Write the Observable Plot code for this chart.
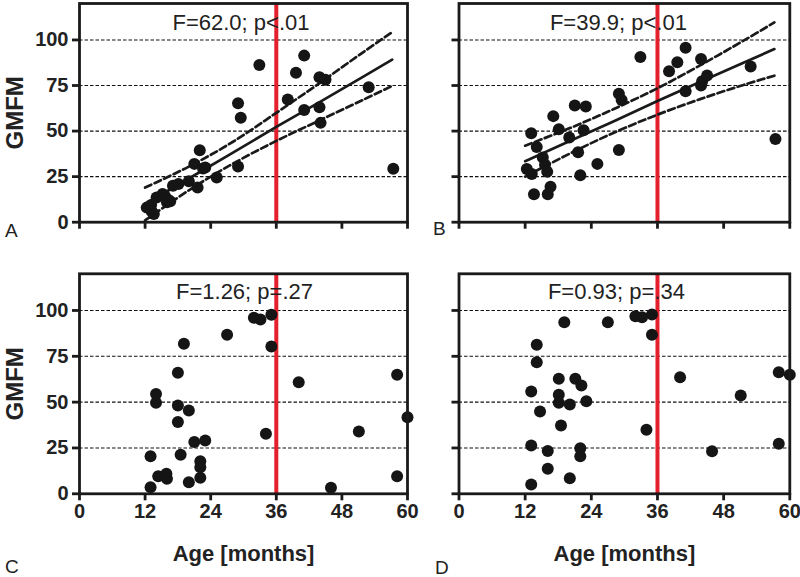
<!DOCTYPE html>
<html><head><meta charset="utf-8">
<script src="https://cdn.jsdelivr.net/npm/d3@7"></script>
<script src="https://cdn.jsdelivr.net/npm/@observablehq/plot@0.6"></script>
<style>
html,body{margin:0;padding:0;background:#fff;}
#wrap{position:relative;width:800px;height:577px;overflow:hidden;font-family:"Liberation Sans",Arial,sans-serif;}
.panel{position:absolute;}
.letter{position:absolute;font-size:19px;color:#222;line-height:1;font-family:"Liberation Sans",Arial,sans-serif;}
</style></head><body><div id="wrap"></div>
<script>
// ---- data ----
const xTicks = [0, 12, 24, 36, 48, 60];
const yTicks = [0, 25, 50, 75, 100];
const gridLevels = [25, 50, 75, 100];
const cutoffMonths = 36;

// top row (A, B): same children, two outcomes
const agesTop = [12.3, 13.1, 13.2, 13.6, 14.1, 15.2, 15.6, 16.0, 16.1, 16.6, 17.1, 18.1, 20.0, 21.0, 21.6, 22.0, 22.6, 23.0, 25.1, 29.0, 29.5, 29.0, 32.9, 38.1, 39.6, 41.1, 41.1, 43.9, 43.9, 44.1, 45.0, 52.9, 57.4];
const gmfmA = [8, 9.5, 6, 4.5, 13.5, 15.5, 14.5, 11, 12.5, 11.5, 20, 21, 22.5, 32, 19, 39.5, 29.5, 30, 24.5, 65.3, 57.3, 30.5, 86.3, 67.3, 82, 91.4, 61.6, 79.5, 63.1, 54.5, 78.1, 74, 29.3];
const gmfmB = [29.2, 48.8, 26.4, 15.4, 41.3, 35.5, 31.5, 27.7, 15.4, 19.5, 58.2, 51, 46.5, 64, 38.4, 25.8, 50.5, 63.5, 32, 70.5, 67.1, 39.6, 90.7, 82.8, 87.8, 95.7, 71.9, 89.6, 75, 77.3, 80.5, 85.4, 45.7];

// regression fit and dashed confidence bands (read at these ages)
const fitAges = [12, 20, 28, 36, 44, 52, 57.2];
const fitA = [10, 24, 38, 52.3, 66, 80, 89.2];
const upperA = [19, 30.5, 44, 60, 76.5, 93.5, 104.3];
const lowerA = [1, 17.5, 32, 44.6, 56, 67.3, 74.8];
const fitB = [33.5, 44.4, 55.3, 66.5, 77.3, 88, 95];
const upperB = [42, 51.5, 62, 73.5, 86.5, 100.3, 109.6];
const lowerB = [25, 37.5, 49, 59, 67.8, 75.7, 80.4];

// bottom row (C, D)
const agesC = [13.0, 13.0, 14.0, 14.0, 14.4, 15.9, 16.0, 19.1, 18.0, 18.0, 20.0, 18.0, 18.5, 21.0, 23.0, 20.0, 22.1, 22.1, 22.1, 27.0, 31.9, 33.1, 35.1, 35.1, 34.1, 40.1, 58.1, 60.0, 51.1, 58.1, 46.0];
const gmfmC = [20.5, 3.6, 54.5, 49.6, 9.6, 10.9, 8.2, 81.8, 66, 48.2, 45.4, 39.1, 21.3, 28.2, 29.1, 6.3, 17.8, 14.5, 8.7, 86.7, 96, 95.1, 97.6, 80.4, 32.7, 60.9, 64.9, 41.8, 34, 9.6, 3.3];
const agesD = [13.1, 13.1, 13.1, 14.1, 14.1, 14.7, 16.1, 16.1, 18.1, 18.1, 18.1, 18.5, 19.1, 20.1, 20.1, 21.1, 22.2, 23.1, 22.0, 22.0, 27.0, 32.0, 33.2, 35.0, 35.0, 34.0, 40.1, 51.1, 58.0, 60.0, 45.9, 58.0];
const gmfmD = [5.1, 26.4, 55.8, 81.3, 71.8, 44.9, 23.3, 13.6, 62.7, 54, 49.6, 37.3, 93.6, 48.7, 8.5, 62.7, 59.1, 50.5, 24.9, 20.5, 93.6, 96.9, 96.3, 97.8, 86.7, 34.9, 63.6, 53.6, 66.3, 64.9, 23.2, 27.3];

const stats = ["F=62.0; p<.01", "F=39.9; p<.01", "F=1.26; p=.27", "F=0.93; p=.34"];
const panelLetters = ["A", "B", "C", "D"];
const yTitle = "GMFM";
const xTitle = "Age [months]";

// ---- drawing ----
const wrap = document.getElementById("wrap");
const INK = "#1a1a1a";

function series(xs, ys) { return xs.map((x, i) => ({x, y: ys[i]})); }

function panel(o) {
  const pts = series(o.ages, o.gmfm);
  const marks = [
    Plot.ruleY(gridLevels, {stroke: "#111", strokeWidth: 1.1, strokeDasharray: "3.5,2"}),
    Plot.ruleX([cutoffMonths], {stroke: "#e3202b", strokeWidth: 4})
  ];
  if (o.fit) {
    marks.push(Plot.line(series(fitAges, o.upper), {x: "x", y: "y", stroke: INK, strokeWidth: 2.7, strokeDasharray: "7,3.5", curve: "catmull-rom"}));
    marks.push(Plot.line(series(fitAges, o.lower), {x: "x", y: "y", stroke: INK, strokeWidth: 2.7, strokeDasharray: "7,3.5", curve: "catmull-rom"}));
    marks.push(Plot.line(series(fitAges, o.fit), {x: "x", y: "y", stroke: INK, strokeWidth: 2.7}));
  }
  marks.push(Plot.dot(pts, {x: "x", y: "y", r: 6, fill: "#151515", stroke: "none"}));
  marks.push(Plot.text([o.stat], {frameAnchor: "top", lineAnchor: "middle", dy: o.statDy, dx: o.statDx, fontSize: 22, fill: "#222", fontWeight: "normal"}));
  marks.push(Plot.frame({stroke: INK, strokeWidth: 2.8}));
  marks.push(Plot.axisY({ticks: yTicks, tickSize: 7, tickPadding: 4, strokeWidth: 2.8, stroke: INK, fontSize: 20, fontWeight: "bold", fill: "#222",
    tickFormat: o.yLabels ? (d => String(d)) : (() => ""), label: null}));
  marks.push(Plot.axisX({ticks: xTicks, tickSize: 7, tickPadding: 3, strokeWidth: 2.8, stroke: INK, fontSize: 20, fontWeight: "bold", fill: "#222",
    tickFormat: o.xLabels ? (d => String(d)) : (() => ""), label: null}));
  if (o.yLabels) {
    marks.push(Plot.text([yTitle], {frameAnchor: "left", textAnchor: "middle", lineAnchor: "middle", rotate: -90, dx: -64, fontSize: 24, fontWeight: "bold", fill: "#222"}));
  }
  if (o.xLabels) {
    marks.push(Plot.text([xTitle], {frameAnchor: "bottom", textAnchor: "middle", lineAnchor: "middle", dy: 60, fontSize: 22, fontWeight: "bold", fill: "#222"}));
  }
  const svg = Plot.plot({
    width: o.width, height: o.height,
    marginLeft: o.mL, marginRight: o.mR, marginTop: o.mT, marginBottom: o.mB,
    x: {domain: [0, 60]}, y: {domain: [0, 120]},
    style: {fontFamily: "'Liberation Sans', Arial, sans-serif", background: "transparent", overflow: "visible"},
    marks
  });
  const d = document.createElement("div");
  d.className = "panel";
  d.style.left = o.left + "px";
  d.style.top = o.top + "px";
  d.appendChild(svg);
  wrap.appendChild(d);
}

const topGeom = {top: 0, height: 240, mT: 3, mB: 18.3, statDy: 19.5};
const botGeom = {top: 240, height: 337, mT: 33.3, mB: 83.7, statDy: 18};
const leftGeom = {left: 0, width: 420, mL: 79, mR: 13, yLabels: true};
const rightGeom = {left: 400, width: 400, mL: 58.5, mR: 10.7, yLabels: false};

panel({...topGeom, ...leftGeom, ages: agesTop, gmfm: gmfmA, fit: fitA, upper: upperA, lower: lowerA, stat: stats[0], statDx: -2.5, xLabels: false});
panel({...topGeom, ...rightGeom, ages: agesTop, gmfm: gmfmB, fit: fitB, upper: upperB, lower: lowerB, stat: stats[1], statDx: -6, xLabels: false});
panel({...botGeom, ...leftGeom, ages: agesC, gmfm: gmfmC, stat: stats[2], statDx: 1, xLabels: true});
panel({...botGeom, ...rightGeom, ages: agesD, gmfm: gmfmD, stat: stats[3], statDx: -8, xLabels: true});

const letterPos = [[5, 221], [433, 219], [5, 557], [435, 558]];
panelLetters.forEach((t, i) => {
  const s = document.createElement("div");
  s.className = "letter";
  s.textContent = t;
  s.style.left = letterPos[i][0] + "px";
  s.style.top = letterPos[i][1] + "px";
  wrap.appendChild(s);
});
</script>
</body></html>
